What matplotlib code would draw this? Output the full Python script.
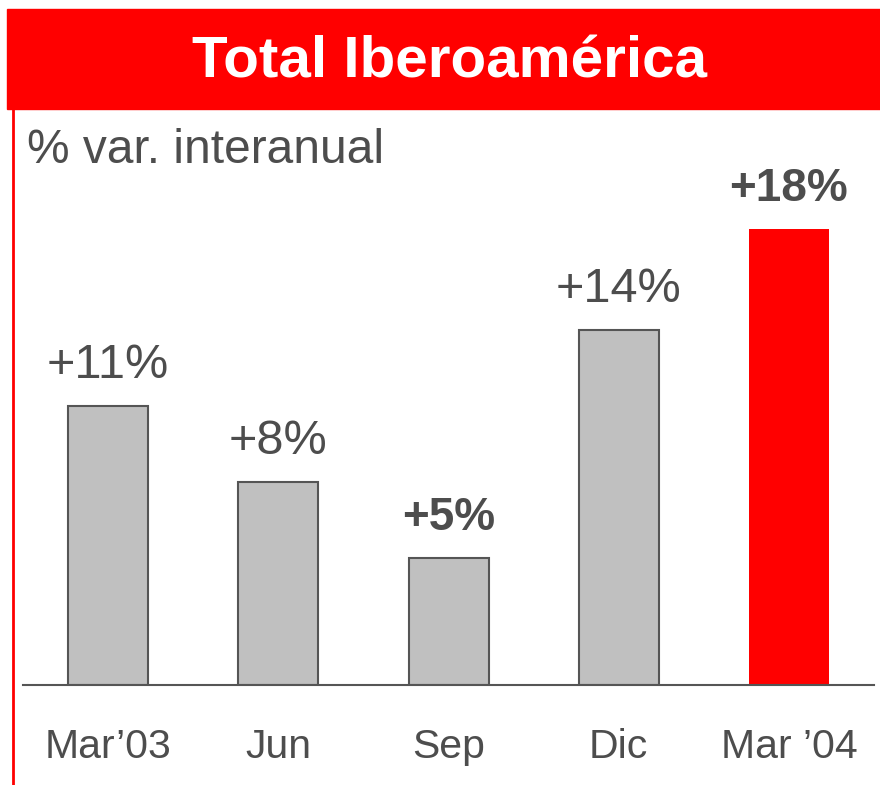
import matplotlib.pyplot as plt
from matplotlib.patches import Rectangle
from matplotlib.lines import Line2D

# Datos
periodos = ["Mar\u201903", "Jun", "Sep", "Dic", "Mar \u201904"]
variacion = [11, 8, 5, 14, 18]
etiquetas = ["+11%", "+8%", "+5%", "+14%", "+18%"]
negrita = [False, False, True, False, True]

GRIS_TEXTO = "#4d4d4d"
ROJO = "#ff0000"

plt.rcParams['font.family'] = ['Liberation Sans', 'DejaVu Sans']

W, H = 880, 785
fig = plt.figure(figsize=(W / 100, H / 100), dpi=100)

# Cabecera roja
fig.patches.append(Rectangle((7 / W, 1 - 109 / H), (W - 7) / W, 100 / H,
                             transform=fig.transFigure, color=ROJO, zorder=0))
fig.text(449 / W, 1 - 78 / H, "Total Iberoamérica", color="white",
         fontsize=42, fontweight="bold", ha="center", va="baseline")

# Línea roja vertical a la izquierda
fig.lines.append(Line2D([12.5 / W, 12.5 / W], [0, 1 - 109 / H],
                        transform=fig.transFigure, color=ROJO, lw=2))

fig.text(27 / W, 1 - 163 / H, "% var. interanual", color=GRIS_TEXTO,
         fontsize=34.5, ha="left", va="baseline")

# Ejes: base en y=685 px, 25.35 px por punto porcentual
px_por_pct = 25.35
ymax = 22
alto = ymax * px_por_pct
ax = fig.add_axes([23 / W, (H - 685) / H, (874 - 23) / W, alto / H])

colores = ["#c0c0c0"] * 4 + [ROJO]
bordes = ["#555555"] * 4 + ["none"]
x = range(len(periodos))
ax.bar(x, variacion, width=80 / 170.2, color=colores, edgecolor=bordes, linewidth=1.5, zorder=2)

for i, (v, t, b) in enumerate(zip(variacion, etiquetas, negrita)):
    ax.annotate(t, (i, v), xytext=(0, 20), textcoords="offset points",
                ha="center", va="baseline", color=GRIS_TEXTO,
                fontsize=33 if b else 35, fontweight="bold" if b else "normal")

ax.set_xlim(-0.5, 4.5)
ax.set_ylim(0, ymax)
ax.set_xticks(list(x))
ax.set_xticklabels(periodos, fontsize=29.5, color=GRIS_TEXTO)
ax.tick_params(axis="x", length=0, pad=31)
ax.set_yticks([])
for lado in ["top", "right", "left"]:
    ax.spines[lado].set_visible(False)
ax.spines["bottom"].set_color("#555555")
ax.spines["bottom"].set_linewidth(1.5)
ax.spines["bottom"].set_zorder(3)
ax.patch.set_visible(False)

fig.savefig("out.png", dpi=100)
